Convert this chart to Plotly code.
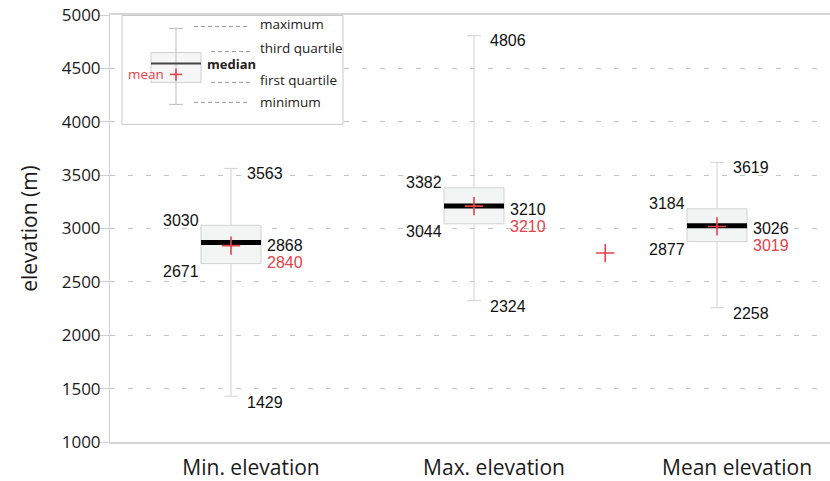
import plotly.graph_objects as go

# ---- data ----
categories = ["Min. elevation", "Max. elevation", "Mean elevation"]
positions = [0, 1, 2]
minimum = [1429, 2324, 2258]
q1 = [2671, 3044, 2877]
median = [2868, 3210, 3026]
q3 = [3030, 3382, 3184]
maximum = [3563, 4806, 3619]
mean = [2840, 3210, 3019]
stray_x = [1.54]
stray_y = [2770]
y_ticks = [1000, 1500, 2000, 2500, 3000, 3500, 4000, 4500, 5000]

RED = "#e8414a"
BOX_W = 0.247
NUM_FONT = dict(family="Liberation Sans, Arial", size=16, color="#111")
LBL_FONT = "Open Sans"

fig = go.Figure()

for i, p in enumerate(positions):
    fig.add_trace(go.Box(
        x=[p], q1=[q1[i]], median=[median[i]], q3=[q3[i]],
        lowerfence=[minimum[i]], upperfence=[maximum[i]],
        width=BOX_W, whiskerwidth=0.23, boxpoints=False,
        fillcolor="#f3f4f4", line=dict(color="#d2d2d2", width=1),
        showlegend=False, hoverinfo="skip"))
    fig.add_trace(go.Scatter(
        x=[p - BOX_W / 2, p + BOX_W / 2], y=[median[i], median[i]],
        mode="lines", line=dict(color="black", width=5),
        showlegend=False, hoverinfo="skip"))

fig.add_trace(go.Scatter(
    x=positions + stray_x, y=mean + stray_y, mode="markers",
    marker=dict(symbol="cross-thin", size=13, line=dict(color=RED, width=1.6)),
    showlegend=False, hoverinfo="skip"))

for i, p in enumerate(positions):
    fig.add_annotation(x=p, y=maximum[i], text=str(maximum[i]), showarrow=False,
                       xanchor="left", yanchor="middle", xshift=14, yshift=-5, font=NUM_FONT)
    fig.add_annotation(x=p, y=minimum[i], text=str(minimum[i]), showarrow=False,
                       xanchor="left", yanchor="middle", xshift=14, yshift=-6, font=NUM_FONT)
    fig.add_annotation(x=p, y=q3[i], text=str(q3[i]), showarrow=False,
                       xanchor="right", yanchor="middle", xshift=-30, yshift=5, font=NUM_FONT)
    fig.add_annotation(x=p, y=q1[i], text=str(q1[i]), showarrow=False,
                       xanchor="right", yanchor="middle", xshift=-30, yshift=-8, font=NUM_FONT)
    fig.add_annotation(x=p, y=median[i], text=str(median[i]), showarrow=False,
                       xanchor="left", yanchor="middle", xshift=34, yshift=-3, font=NUM_FONT)
    fig.add_annotation(x=p, y=median[i], text=str(mean[i]), showarrow=False,
                       xanchor="left", yanchor="middle", xshift=34, yshift=-20,
                       font=dict(family="Liberation Sans, Arial", size=16, color=RED))

# ---- key box drawn in paper coordinates from pixel positions ----
L, R, T, B = 110, 830, 14.5, 442


def px(x):
    return (x - L) / (R - L)


def py(y):
    return (B - y) / (B - T)


def rect(x0, y0, x1, y1, line, fill="rgba(0,0,0,0)", width=1, dash="solid"):
    fig.add_shape(type="rect", xref="paper", yref="paper", x0=px(x0), x1=px(x1),
                  y0=py(y0), y1=py(y1), line=dict(color=line, width=width, dash=dash),
                  fillcolor=fill, layer="above")


def line(x0, y0, x1, y1, color, width=1, dash="solid"):
    fig.add_shape(type="line", xref="paper", yref="paper", x0=px(x0), x1=px(x1),
                  y0=py(y0), y1=py(y1), line=dict(color=color, width=width, dash=dash),
                  layer="above")


def text(x, y, s, anchor="left", color="#222", size=13, bold=False):
    fig.add_annotation(xref="paper", yref="paper", x=px(x), y=py(y),
                       text=("<b>%s</b>" % s) if bold else s, showarrow=False,
                       xanchor=anchor, yanchor="middle",
                       font=dict(family=LBL_FONT, size=size, color=color))


rect(122, 15, 343, 124, "#c8c8c8", fill="white")
line(176, 28, 176, 104, "#bdbdbd")
line(169, 28, 183, 28, "#bdbdbd")
line(169, 104, 183, 104, "#bdbdbd")
rect(151, 52, 201, 82, "#d0d0d0", fill="#f6f6f6")
line(176, 52, 176, 82, "#bdbdbd")
line(151, 63, 201, 63, "#444444", width=2)
line(170, 74, 182, 74, RED, width=1.6)
line(176, 68, 176, 80, RED, width=1.6)
text(166, 74, "mean", anchor="right", color=RED, size=13.5)
text(205, 64, "median", bold=True, size=13)
line(194, 26, 250, 26, "#9a9a9a", dash="4px,3px")
line(211, 51, 250, 51, "#9a9a9a", dash="4px,3px")
line(211, 82, 250, 82, "#9a9a9a", dash="4px,3px")
line(194, 102, 250, 102, "#9a9a9a", dash="4px,3px")
text(258, 24, "maximum", size=13.5)
text(258, 48, "third quartile", size=13.5)
text(258, 80, "first quartile", size=13.5)
text(258, 102, "minimum", size=13.5)

fig.update_layout(
    width=830, height=481,
    margin=dict(l=L, r=0, t=T, b=481 - B),
    paper_bgcolor="white", plot_bgcolor="white",
    showlegend=False,
    xaxis=dict(range=[-0.498, 2.465], tickvals=positions, ticktext=categories,
               showgrid=False, zeroline=False, showline=True, mirror=True,
               linecolor="#d6d6d6", linewidth=1.5, ticks="",
               tickfont=dict(family=LBL_FONT, size=21, color="#1a1a1a"),
               ticklabelshift=20, ticklabelstandoff=6, automargin=False),
    yaxis=dict(range=[1000, 5000], tickvals=y_ticks, showgrid=True,
               gridcolor="#c4c4c4", griddash="5px,13px", gridwidth=1,
               zeroline=False, showline=True, linecolor="#cfcfcf", linewidth=1,
               ticks="outside", ticklen=9, tickcolor="#cfcfcf",
               ticklabeloverflow="allow", ticklabelstandoff=-4,
               tickfont=dict(family=LBL_FONT, size=17, color="#1a1a1a"),
               title=dict(text="elevation (m)", standoff=18,
                          font=dict(family=LBL_FONT, size=21, color="#1a1a1a")),
               automargin=False),
)

fig.write_html("out.html", config={"displayModeBar": False},
               post_script="document.body.style.margin='0';document.body.style.overflow='hidden';")
